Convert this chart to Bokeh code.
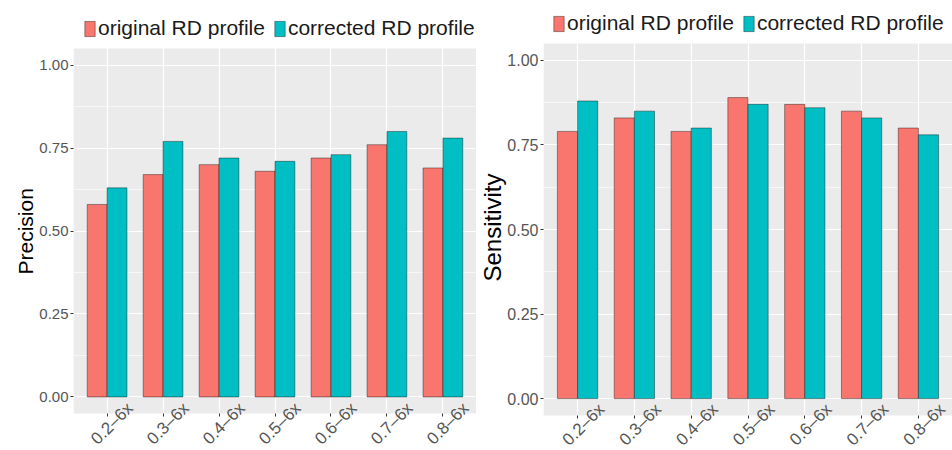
import math

from bokeh.core.properties import value
from bokeh.embed import file_html
from bokeh.layouts import row
from bokeh.models import (BoxAnnotation, ColumnDataSource, FactorRange, FixedTicker,
                          LabelSet, Legend, LegendItem, NumeralTickFormatter,
                          Range1d, Title)
from bokeh.plotting import figure
from bokeh.resources import INLINE
from bokeh.transform import dodge

# ---- data -------------------------------------------------------------
coverage = ["0.2–6x", "0.3–6x", "0.4–6x", "0.5–6x", "0.6–6x", "0.7–6x", "0.8–6x"]
series_labels = ["original RD profile", "corrected RD profile"]

precision_original = [0.58, 0.67, 0.70, 0.68, 0.72, 0.76, 0.69]
precision_corrected = [0.63, 0.77, 0.72, 0.71, 0.73, 0.80, 0.78]

sensitivity_original = [0.79, 0.83, 0.79, 0.89, 0.87, 0.85, 0.80]
sensitivity_corrected = [0.88, 0.85, 0.80, 0.87, 0.86, 0.83, 0.78]

y_ticks = [0.0, 0.25, 0.50, 0.75, 1.00]
y_minor_ticks = [0.125, 0.375, 0.625, 0.875]

# ---- style ------------------------------------------------------------
RED = "#F8766D"
TEAL = "#00BFC4"
PANEL = "#EBEBEB"
FONT = "Liberation Sans"
TICK_GREY = "#555555"
PANEL_START, PANEL_END = -0.05, 1.05   # grey panel extent in data units
BAR_W = 0.355
HEIGHT = 450
FRAME_BOTTOM = 450                      # pixel row where the plotting frame ends


def make_panel(ylabel, original, corrected, width, b_left, panel_top, panel_bottom,
               tick_size, xlab_size, title_size, title_offset, title_standoff,
               label_dx, label_dy, label_standoff, legend_xy):
    src = ColumnDataSource(dict(cat=coverage, original=original, corrected=corrected))

    # the frame covers the legend strip above and the label strip below the
    # grey panel, so those texts are not clipped
    k = (panel_bottom - panel_top) / (PANEL_END - PANEL_START)
    y_top = PANEL_END + panel_top / k
    y_bot = PANEL_START - (FRAME_BOTTOM - panel_bottom) / k

    p = figure(
        width=width, height=HEIGHT,
        x_range=FactorRange(factors=coverage, range_padding=0.1,
                            range_padding_units="absolute"),
        y_range=Range1d(y_bot, y_top),
        output_backend="svg", toolbar_location=None,
        min_border_left=b_left, min_border_right=0,
        min_border_top=0, min_border_bottom=0,
    )
    p.background_fill_color = "white"
    p.border_fill_color = "white"
    p.outline_line_color = None

    p.add_layout(BoxAnnotation(bottom=PANEL_START, top=PANEL_END, fill_color=PANEL,
                               fill_alpha=1, line_color=None, level="image"))

    r_orig = p.vbar(x=dodge("cat", -BAR_W / 2, range=p.x_range), top="original",
                    bottom=0, width=BAR_W, source=src, fill_color=RED,
                    line_color="black", line_alpha=0.55, line_width=0.7)
    r_corr = p.vbar(x=dodge("cat", BAR_W / 2, range=p.x_range), top="corrected",
                    bottom=0, width=BAR_W, source=src, fill_color=TEAL,
                    line_color="black", line_alpha=0.55, line_width=0.7)

    # grid
    p.xgrid.grid_line_color = "white"
    p.xgrid.grid_line_width = 1.2
    p.ygrid.grid_line_color = "white"
    p.ygrid.grid_line_width = 1.2
    p.ygrid.minor_grid_line_color = "white"
    p.ygrid.minor_grid_line_width = 0.6

    # y axis
    p.yaxis.ticker = FixedTicker(ticks=y_ticks, minor_ticks=y_minor_ticks)
    p.yaxis.formatter = NumeralTickFormatter(format="0.00")
    p.yaxis.axis_line_color = None
    p.yaxis.major_tick_line_color = "#333333"
    p.yaxis.major_tick_out = 3
    p.yaxis.major_tick_in = 0
    p.yaxis.minor_tick_out = 0
    p.yaxis.minor_tick_in = 0
    p.yaxis.major_label_text_font = FONT
    p.yaxis.major_label_text_font_size = f"{tick_size}px"
    p.yaxis.major_label_text_color = TICK_GREY
    p.yaxis.major_label_standoff = label_standoff

    p.add_layout(Title(text=ylabel, align="left", offset=title_offset,
                       standoff=title_standoff,
                       text_font=FONT, text_font_size=f"{title_size}px",
                       text_font_style="normal", text_color="black"), "left")

    # x axis: tick marks on the panel's lower edge, names drawn rotated below
    p.xaxis.fixed_location = PANEL_START
    p.xaxis.axis_line_color = None
    p.xaxis.major_tick_line_color = "#333333"
    p.xaxis.major_tick_out = 3
    p.xaxis.major_tick_in = 0
    p.xaxis.major_label_text_font_size = "1px"
    p.xaxis.major_label_text_alpha = 0
    p.xaxis.major_label_standoff = 0

    p.add_layout(LabelSet(x="cat", y=PANEL_START, text="cat", source=src,
                          angle=math.pi / 4, text_align="right", text_baseline="middle",
                          x_offset=label_dx, y_offset=label_dy,
                          text_font=value(FONT), text_font_size=f"{xlab_size}px",
                          text_color=TICK_GREY))

    legend = Legend(
        items=[LegendItem(label=series_labels[0], renderers=[r_orig]),
               LegendItem(label=series_labels[1], renderers=[r_corr])],
        orientation="horizontal", location=legend_xy,
        glyph_width=13, glyph_height=19, label_standoff=2, spacing=8,
        padding=0, margin=0, border_line_color=None, background_fill_alpha=0,
        label_text_font=FONT, label_text_font_size="21px", label_text_color="#1a1a1a",
    )
    p.add_layout(legend)
    return p


left = make_panel("Precision", precision_original, precision_corrected,
                  width=476, b_left=73, panel_top=48, panel_bottom=413,
                  tick_size=15, xlab_size=17, title_size=21, title_offset=176,
                  title_standoff=0, label_dx=23, label_dy=8, label_standoff=2,
                  legend_xy=(10, 410))
right = make_panel("Sensitivity", sensitivity_original, sensitivity_corrected,
                   width=476, b_left=67, panel_top=43, panel_bottom=415,
                   tick_size=16, xlab_size=17, title_size=24, title_offset=169,
                   title_standoff=-2, label_dx=24, label_dy=9, label_standoff=2,
                   legend_xy=(9, 415))

layout = row(left, right)

with open("out.html", "w") as f:
    f.write(file_html(layout, INLINE))
